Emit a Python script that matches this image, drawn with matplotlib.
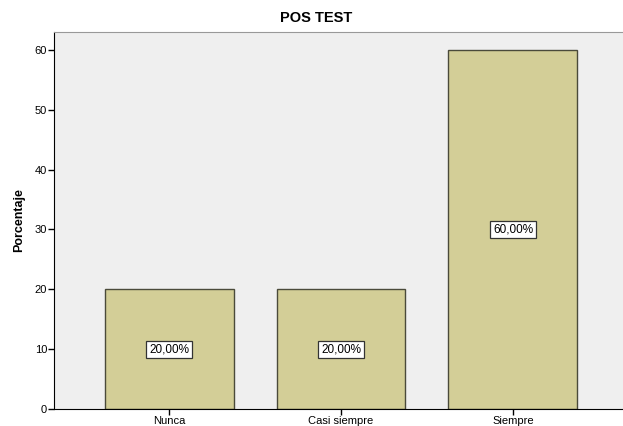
import matplotlib
matplotlib.use("Agg")
import matplotlib.pyplot as plt

categories = ["Nunca", "Casi siempre", "Siempre"]
values = [20, 20, 60]
labels = ["20,00%", "20,00%", "60,00%"]
yticks = [0, 10, 20, 30, 40, 50, 60]

FONT = "Liberation Sans"
fig = plt.figure(figsize=(6.23, 4.26), dpi=100)
ax = fig.add_axes([0.0867, 0.040, 0.9133, 0.885])
ax.set_facecolor("#EFEFEF")
x = list(range(len(categories)))
ax.bar(x, values, width=0.75, color="#D3CE97", edgecolor="#4A4A3A", linewidth=1.0, zorder=2)
for xi, v, lab in zip(x, values, labels):
    ax.text(xi, v / 2, lab, ha="center", va="center", fontsize=8.5, family=FONT,
            bbox=dict(boxstyle="square,pad=0.22", facecolor="white", edgecolor="#333333", linewidth=0.9), zorder=3)
ax.set_xlim(-0.669, 2.64)
ax.set_ylim(0, 63)
ax.set_yticks(yticks)
ax.set_xticks(x)
ax.set_xticklabels(categories, fontsize=8, family=FONT)
ax.tick_params(axis="y", labelsize=8, length=4, width=1, pad=1)
ax.tick_params(axis="x", length=4, width=1, pad=1)
for lab in ax.get_yticklabels():
    lab.set_family(FONT)
ax.spines["right"].set_visible(False)
ax.spines["top"].set_color("#999999")
ax.spines["left"].set_color("black")
ax.spines["bottom"].set_color("black")
ax.set_ylabel("Porcentaje", fontsize=9, fontweight="bold", family=FONT, labelpad=7)
fig.text(0.508, 0.958, "POS TEST", ha="center", va="center", fontsize=10.5, fontweight="bold", family=FONT)
fig.savefig("out.png", dpi=100)
